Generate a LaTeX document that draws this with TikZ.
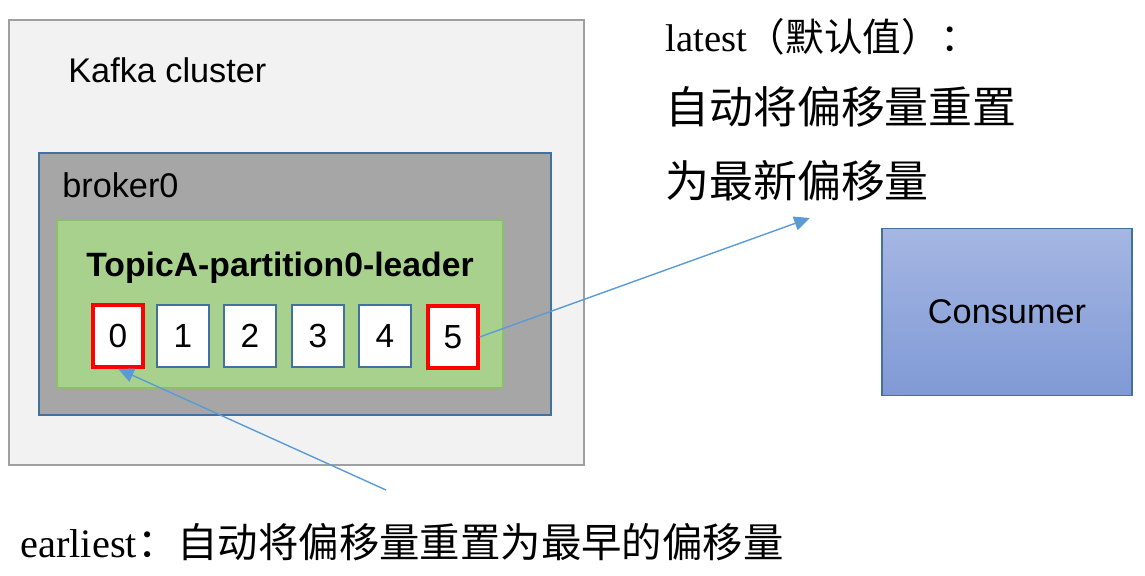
\documentclass[tikz,border=0pt]{standalone}
\usepackage{fontspec}
\setmainfont{Liberation Sans}
\newfontfamily\serifn{Liberation Serif}
\newfontfamily\cjk{Noto Sans CJK SC}
\usetikzlibrary{arrows.meta}
\definecolor{bluebd}{HTML}{41719C}
\definecolor{arr}{HTML}{5B9BD5}
\tikzset{
 cell/.style={draw=bluebd,fill=white,line width=1pt,minimum width=29.5pt,minimum height=35pt,inner sep=0pt,font=\fontsize{19pt}{20pt}\selectfont},
 redcell/.style={cell,draw=red,line width=2.3pt,minimum width=28pt,minimum height=35pt},
 link/.style={draw=arr,line width=0.8pt,-{Triangle[length=9pt,width=8pt]}},
 lbl/.style={anchor=west,inner sep=0pt},
}
\begin{document}
\begin{tikzpicture}[x=0.02cm,y=-0.02cm]
\useasboundingbox (0,0) rectangle (1145,575);
\draw[fill=gray!10,draw=gray!75,line width=1.2pt] (9,20) rectangle (584,465);
\node[lbl,font=\fontsize{19.5pt}{22pt}\selectfont] (kc) at (68,70) {Kafka cluster};
\draw[fill=black!35,draw=bluebd,line width=1.2pt] (39,153) rectangle (551,415);
\node[lbl,font=\fontsize{19.5pt}{22pt}\selectfont] (b0) at (62,185) {broker0};
\draw[fill={rgb,255:red,169;green,209;blue,142},draw={rgb,255:red,140;green,190;blue,110},line width=0.8pt] (57,220) rectangle (503,388);
\node[font=\fontsize{19.2pt}{22pt}\selectfont\bfseries] (tp) at (280,268) {TopicA-partition0-leader};
\node[redcell] (c0) at (118,336) {0};
\node[cell] (c1) at (183,336) {1};
\node[cell] (c2) at (250,336) {2};
\node[cell] (c3) at (318,336) {3};
\node[cell] (c4) at (385,336) {4};
\node[redcell] (c5) at (453,337) {5};
\node[draw=bluebd,line width=1pt,top color={rgb,255:red,165;green,182;blue,226},bottom color={rgb,255:red,128;green,154;blue,214},minimum width=142.5pt,minimum height=95pt,font=\fontsize{19.5pt}{22pt}\selectfont] (cons) at (1007,312) {Consumer};
\node[lbl,font=\fontsize{22pt}{24pt}\selectfont] (lt) at (665,37) {\serifn latest\cjk（默认值）：};
\node[lbl,font=\fontsize{25pt}{26pt}\selectfont\cjk] (l2) at (665,107) {自动将偏移量重置};
\node[lbl,font=\fontsize{25pt}{26pt}\selectfont\cjk] (l3) at (665,181) {为最新偏移量};
\coordinate (ltend) at (810,218);
\coordinate (estart) at (386,490);
\draw[link] (c5.east) -- (ltend);
\draw[link] (estart) -- (c0.south);
\node[lbl,font=\fontsize{23pt}{24pt}\selectfont] (el) at (20,542) {\serifn earliest\cjk：自动将偏移量重置为最早的偏移量};
\end{tikzpicture}
\end{document}
